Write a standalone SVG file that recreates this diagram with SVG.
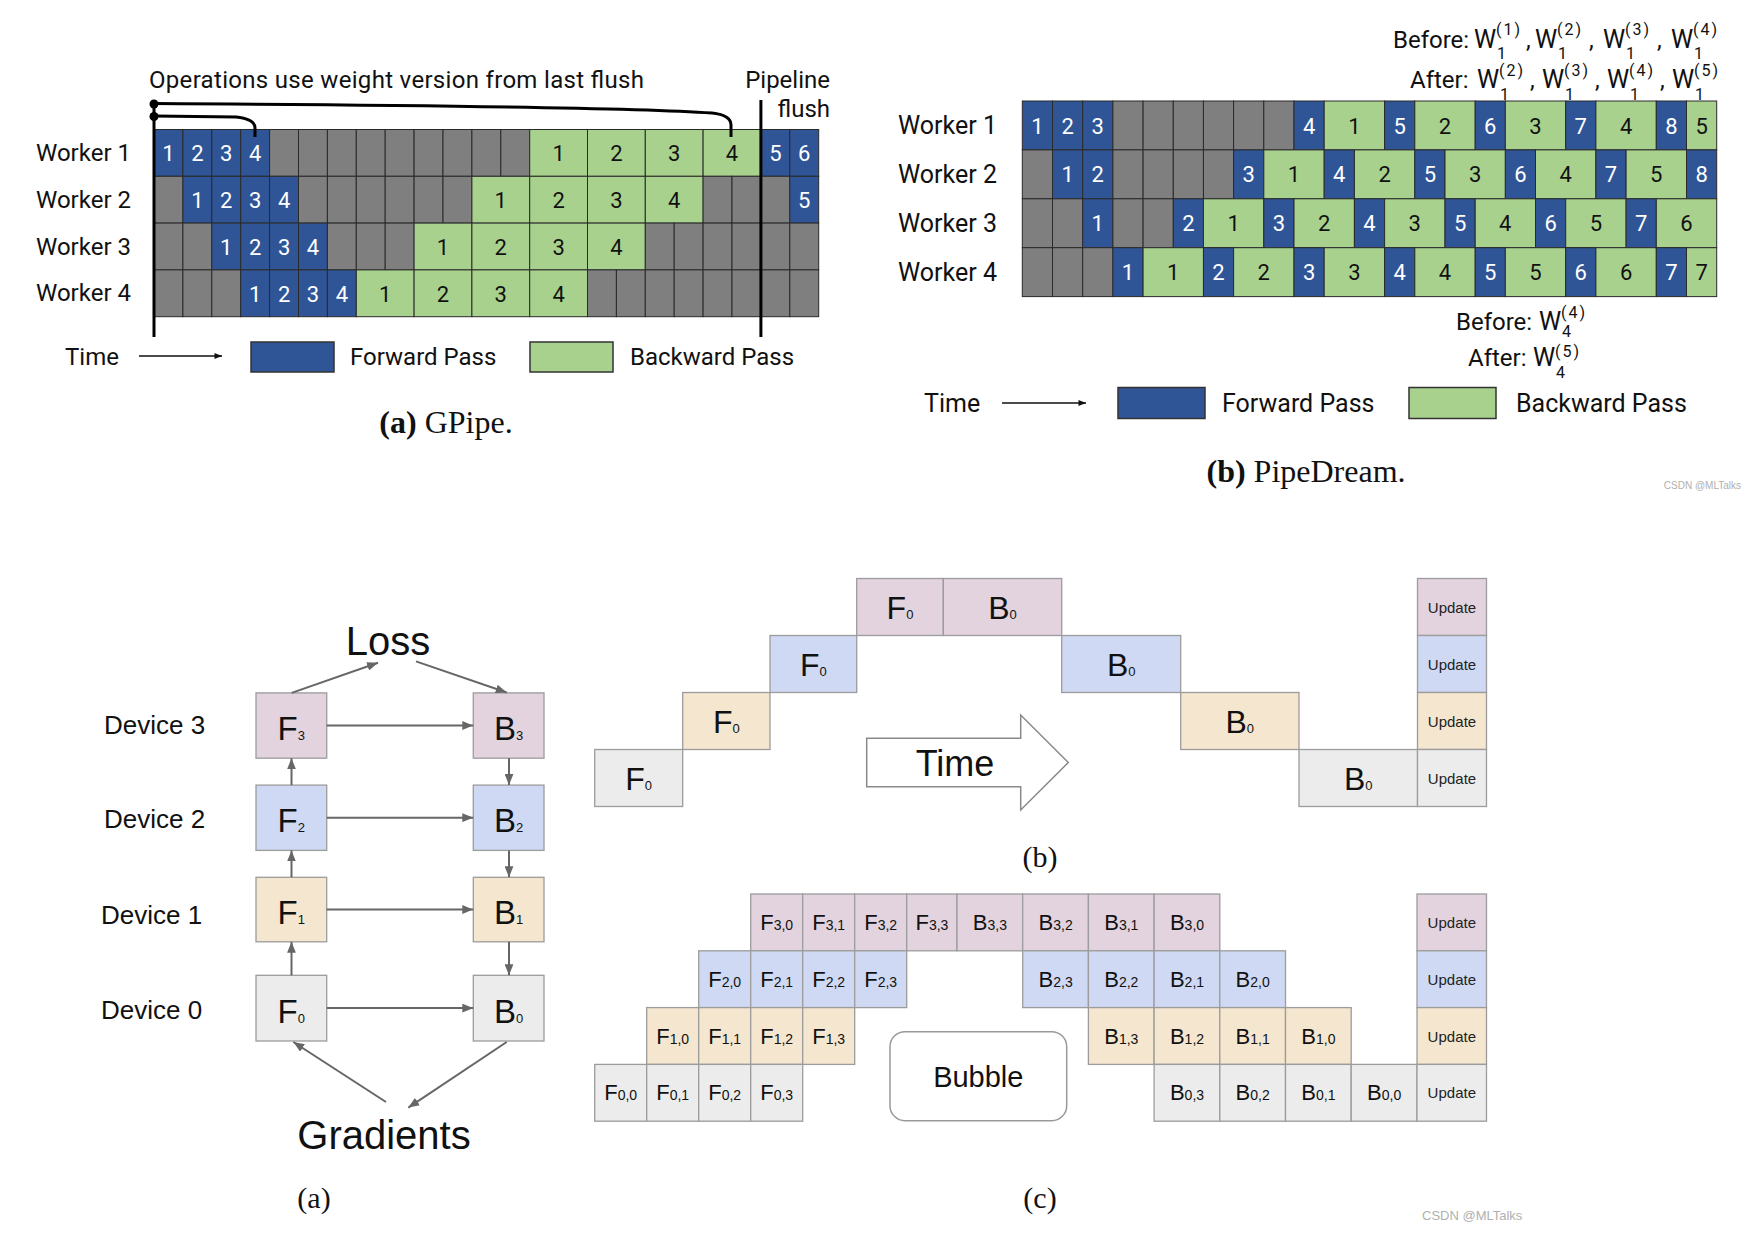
<svg xmlns="http://www.w3.org/2000/svg" width="1748" height="1233" viewBox="0 0 1748 1233">
<style>
.bg{fill:#fff}
.cf{fill:#2f5597;stroke:#2a2a2a;stroke-width:1}
.cg{fill:#7f7f7f;stroke:#2a2a2a;stroke-width:1}
.cb{fill:#a9d18e;stroke:#2a2a2a;stroke-width:1}
.t{font-family:Roboto,"Liberation Sans",sans-serif;fill:#111}
.nw{font-family:Roboto,"Liberation Sans",sans-serif;font-size:22px;fill:#fff;text-anchor:middle}
.nk{font-family:Roboto,"Liberation Sans",sans-serif;font-size:22px;fill:#111;text-anchor:middle}
.lbl{font-family:Roboto,"Liberation Sans",sans-serif;font-size:24px;fill:#111}
.cap{font-family:"Liberation Serif",serif;font-size:32px;fill:#111;text-anchor:middle}
.cap2{font-family:"Liberation Serif",serif;font-size:30px;fill:#111;text-anchor:middle}
.blk{stroke:#000;stroke-width:3;fill:none}
.pu{fill:#e2d3de;stroke:#9c9c9c;stroke-width:1.3}
.bu{fill:#cfd9f3;stroke:#9c9c9c;stroke-width:1.3}
.be{fill:#f4e6cf;stroke:#9c9c9c;stroke-width:1.3}
.gy{fill:#ececec;stroke:#9c9c9c;stroke-width:1.3}
.a{font-family:"Liberation Sans",Arial,sans-serif;fill:#111}
.big{font-family:"Liberation Sans",Arial,sans-serif;font-size:33px;fill:#111;text-anchor:middle}
.mid{font-family:"Liberation Sans",Arial,sans-serif;font-size:32px;fill:#111;text-anchor:middle}
.sm{font-family:"Liberation Sans",Arial,sans-serif;font-size:22px;fill:#111;text-anchor:middle}
.upd{font-family:"Liberation Sans",Arial,sans-serif;font-size:15px;fill:#222;text-anchor:middle}
.con{stroke:#666;stroke-width:2;fill:none}
.wm{font-family:"Liberation Sans",Arial,sans-serif;fill:#b0b0b0}
.w{font-size:25px}
.sp{font-size:16px;letter-spacing:2px}
.sb{font-size:16px}
</style>
<defs>
<marker id="ah" viewBox="0 0 10 8" refX="10" refY="4" markerWidth="11" markerHeight="9" markerUnits="userSpaceOnUse" orient="auto"><path d="M0,0 L10,4 L0,8 z" fill="#666"/></marker>
<marker id="ak" viewBox="0 0 10 8" refX="10" refY="4" markerWidth="8" markerHeight="6" markerUnits="userSpaceOnUse" orient="auto"><path d="M0,0 L10,4 L0,8 z" fill="#111"/></marker>
</defs>
<rect class="bg" x="0" y="0" width="1748" height="1233"/>

<!-- ===================== GPipe ===================== -->
<g id="gpipe">
<text class="t" x="149" y="88" font-size="24" textLength="495">Operations use weight version from last flush</text>
<text class="t" x="830" y="88" font-size="24" text-anchor="end">Pipeline</text>
<text class="t" x="830" y="117" font-size="24" text-anchor="end">flush</text>
<g id="gp-labels">
<text class="lbl" x="36" y="161">Worker 1</text>
<text class="lbl" x="36" y="208">Worker 2</text>
<text class="lbl" x="36" y="255">Worker 3</text>
<text class="lbl" x="36" y="301">Worker 4</text>
</g>
<g id="gp-row1">
<rect class="cf" x="154" y="129.5" width="28.9" height="46.8"/>
<rect class="cf" x="182.9" y="129.5" width="28.9" height="46.8"/>
<rect class="cf" x="211.8" y="129.5" width="28.9" height="46.8"/>
<rect class="cf" x="240.7" y="129.5" width="28.9" height="46.8"/>
<rect class="cg" x="269.6" y="129.5" width="28.9" height="46.8"/>
<rect class="cg" x="298.5" y="129.5" width="28.9" height="46.8"/>
<rect class="cg" x="327.4" y="129.5" width="28.9" height="46.8"/>
<rect class="cg" x="356.3" y="129.5" width="28.9" height="46.8"/>
<rect class="cg" x="385.2" y="129.5" width="28.9" height="46.8"/>
<rect class="cg" x="414.1" y="129.5" width="28.9" height="46.8"/>
<rect class="cg" x="443" y="129.5" width="28.9" height="46.8"/>
<rect class="cg" x="471.9" y="129.5" width="28.9" height="46.8"/>
<rect class="cg" x="500.8" y="129.5" width="28.9" height="46.8"/>
<rect class="cb" x="529.7" y="129.5" width="57.8" height="46.8"/>
<rect class="cb" x="587.5" y="129.5" width="57.8" height="46.8"/>
<rect class="cb" x="645.3" y="129.5" width="57.8" height="46.8"/>
<rect class="cb" x="703.1" y="129.5" width="57.8" height="46.8"/>
<rect class="cf" x="760.9" y="129.5" width="28.9" height="46.8"/>
<rect class="cf" x="789.8" y="129.5" width="28.9" height="46.8"/>
<text class="nw" x="168.5" y="161">1</text><text class="nw" x="197.4" y="161">2</text><text class="nw" x="226.3" y="161">3</text><text class="nw" x="255.2" y="161">4</text>
<text class="nk" x="558.6" y="161">1</text><text class="nk" x="616.4" y="161">2</text><text class="nk" x="674.2" y="161">3</text><text class="nk" x="732" y="161">4</text>
<text class="nw" x="775.4" y="161">5</text><text class="nw" x="804.3" y="161">6</text>
</g>
<g id="gp-row2">
<rect class="cg" x="154" y="176.3" width="28.9" height="46.8"/>
<rect class="cf" x="182.9" y="176.3" width="28.9" height="46.8"/>
<rect class="cf" x="211.8" y="176.3" width="28.9" height="46.8"/>
<rect class="cf" x="240.7" y="176.3" width="28.9" height="46.8"/>
<rect class="cf" x="269.6" y="176.3" width="28.9" height="46.8"/>
<rect class="cg" x="298.5" y="176.3" width="28.9" height="46.8"/>
<rect class="cg" x="327.4" y="176.3" width="28.9" height="46.8"/>
<rect class="cg" x="356.3" y="176.3" width="28.9" height="46.8"/>
<rect class="cg" x="385.2" y="176.3" width="28.9" height="46.8"/>
<rect class="cg" x="414.1" y="176.3" width="28.9" height="46.8"/>
<rect class="cg" x="443" y="176.3" width="28.9" height="46.8"/>
<rect class="cb" x="471.9" y="176.3" width="57.8" height="46.8"/>
<rect class="cb" x="529.7" y="176.3" width="57.8" height="46.8"/>
<rect class="cb" x="587.5" y="176.3" width="57.8" height="46.8"/>
<rect class="cb" x="645.3" y="176.3" width="57.8" height="46.8"/>
<rect class="cg" x="703.1" y="176.3" width="28.9" height="46.8"/>
<rect class="cg" x="732" y="176.3" width="28.9" height="46.8"/>
<rect class="cg" x="760.9" y="176.3" width="28.9" height="46.8"/>
<rect class="cf" x="789.8" y="176.3" width="28.9" height="46.8"/>
<text class="nw" x="197.4" y="208">1</text><text class="nw" x="226.3" y="208">2</text><text class="nw" x="255.2" y="208">3</text><text class="nw" x="284.1" y="208">4</text>
<text class="nk" x="500.8" y="208">1</text><text class="nk" x="558.6" y="208">2</text><text class="nk" x="616.4" y="208">3</text><text class="nk" x="674.2" y="208">4</text>
<text class="nw" x="804.3" y="208">5</text>
</g>
<g id="gp-row3">
<rect class="cg" x="154" y="223.1" width="28.9" height="46.8"/>
<rect class="cg" x="182.9" y="223.1" width="28.9" height="46.8"/>
<rect class="cf" x="211.8" y="223.1" width="28.9" height="46.8"/>
<rect class="cf" x="240.7" y="223.1" width="28.9" height="46.8"/>
<rect class="cf" x="269.6" y="223.1" width="28.9" height="46.8"/>
<rect class="cf" x="298.5" y="223.1" width="28.9" height="46.8"/>
<rect class="cg" x="327.4" y="223.1" width="28.9" height="46.8"/>
<rect class="cg" x="356.3" y="223.1" width="28.9" height="46.8"/>
<rect class="cg" x="385.2" y="223.1" width="28.9" height="46.8"/>
<rect class="cb" x="414.1" y="223.1" width="57.8" height="46.8"/>
<rect class="cb" x="471.9" y="223.1" width="57.8" height="46.8"/>
<rect class="cb" x="529.7" y="223.1" width="57.8" height="46.8"/>
<rect class="cb" x="587.5" y="223.1" width="57.8" height="46.8"/>
<rect class="cg" x="645.3" y="223.1" width="28.9" height="46.8"/>
<rect class="cg" x="674.2" y="223.1" width="28.9" height="46.8"/>
<rect class="cg" x="703.1" y="223.1" width="28.9" height="46.8"/>
<rect class="cg" x="732" y="223.1" width="28.9" height="46.8"/>
<rect class="cg" x="760.9" y="223.1" width="28.9" height="46.8"/>
<rect class="cg" x="789.8" y="223.1" width="28.9" height="46.8"/>
<text class="nw" x="226.3" y="255">1</text><text class="nw" x="255.2" y="255">2</text><text class="nw" x="284.1" y="255">3</text><text class="nw" x="313" y="255">4</text>
<text class="nk" x="443" y="255">1</text><text class="nk" x="500.8" y="255">2</text><text class="nk" x="558.6" y="255">3</text><text class="nk" x="616.4" y="255">4</text>
</g>
<g id="gp-row4">
<rect class="cg" x="154" y="269.9" width="28.9" height="46.8"/>
<rect class="cg" x="182.9" y="269.9" width="28.9" height="46.8"/>
<rect class="cg" x="211.8" y="269.9" width="28.9" height="46.8"/>
<rect class="cf" x="240.7" y="269.9" width="28.9" height="46.8"/>
<rect class="cf" x="269.6" y="269.9" width="28.9" height="46.8"/>
<rect class="cf" x="298.5" y="269.9" width="28.9" height="46.8"/>
<rect class="cf" x="327.4" y="269.9" width="28.9" height="46.8"/>
<rect class="cb" x="356.3" y="269.9" width="57.8" height="46.8"/>
<rect class="cb" x="414.1" y="269.9" width="57.8" height="46.8"/>
<rect class="cb" x="471.9" y="269.9" width="57.8" height="46.8"/>
<rect class="cb" x="529.7" y="269.9" width="57.8" height="46.8"/>
<rect class="cg" x="587.5" y="269.9" width="28.9" height="46.8"/>
<rect class="cg" x="616.4" y="269.9" width="28.9" height="46.8"/>
<rect class="cg" x="645.3" y="269.9" width="28.9" height="46.8"/>
<rect class="cg" x="674.2" y="269.9" width="28.9" height="46.8"/>
<rect class="cg" x="703.1" y="269.9" width="28.9" height="46.8"/>
<rect class="cg" x="732" y="269.9" width="28.9" height="46.8"/>
<rect class="cg" x="760.9" y="269.9" width="28.9" height="46.8"/>
<rect class="cg" x="789.8" y="269.9" width="28.9" height="46.8"/>
<text class="nw" x="255.2" y="301.5">1</text><text class="nw" x="284.1" y="301.5">2</text><text class="nw" x="313" y="301.5">3</text><text class="nw" x="341.9" y="301.5">4</text>
<text class="nk" x="385.2" y="301.5">1</text><text class="nk" x="443" y="301.5">2</text><text class="nk" x="500.8" y="301.5">3</text><text class="nk" x="558.6" y="301.5">4</text>
</g>
<g id="gp-marks">
<line class="blk" x1="154" y1="104" x2="154" y2="337"/>
<line class="blk" x1="760.9" y1="100" x2="760.9" y2="337"/>
<path class="blk" d="M154,103.5 C420,105 640,108 712,113 Q731,115 731,125 L731,137"/>
<path class="blk" d="M154,116 L236,117 Q255,119 255,128 L255,137"/>
<circle cx="154" cy="104" r="4.5" fill="#000"/>
<circle cx="154" cy="116.5" r="4.5" fill="#000"/>
</g>
<g id="gp-legend">
<text class="lbl" x="65" y="365">Time</text>
<line x1="139" y1="356" x2="222" y2="356" stroke="#111" stroke-width="1.6" marker-end="url(#ak)"/>
<rect x="251" y="342" width="83" height="30" fill="#2f5597" stroke="#333" stroke-width="1.5"/>
<text class="lbl" x="350" y="365">Forward Pass</text>
<rect x="530" y="342" width="83" height="30" fill="#a9d18e" stroke="#333" stroke-width="1.5"/>
<text class="lbl" x="630" y="365">Backward Pass</text>
</g>
<text class="cap" x="446" y="433"><tspan font-weight="bold">(a)</tspan> GPipe.</text>
</g>

<!-- ===================== PipeDream ===================== -->
<g id="pipedream">
<g id="pd-weights-top" class="t" font-size="24">
<text x="1393" y="48">Before:</text>
<text class="w" x="1474" y="48">W</text><text class="sp" x="1496" y="35">(1)</text><text class="sb" x="1497" y="59">1</text><text x="1526" y="48">,</text>
<text class="w" x="1535" y="48">W</text><text class="sp" x="1557" y="35">(2)</text><text class="sb" x="1558" y="59">1</text><text x="1589" y="48">,</text>
<text class="w" x="1603" y="48">W</text><text class="sp" x="1625" y="35">(3)</text><text class="sb" x="1626" y="59">1</text><text x="1657" y="48">,</text>
<text class="w" x="1671" y="48">W</text><text class="sp" x="1693" y="35">(4)</text><text class="sb" x="1694" y="59">1</text>
<text x="1410" y="88">After:</text>
<text class="w" x="1477" y="88">W</text><text class="sp" x="1499" y="76">(2)</text><text class="sb" x="1500" y="100">1</text><text x="1530" y="88">,</text>
<text class="w" x="1542" y="88">W</text><text class="sp" x="1564" y="76">(3)</text><text class="sb" x="1565" y="100">1</text><text x="1595" y="88">,</text>
<text class="w" x="1607" y="88">W</text><text class="sp" x="1629" y="76">(4)</text><text class="sb" x="1630" y="100">1</text><text x="1660" y="88">,</text>
<text class="w" x="1672" y="88">W</text><text class="sp" x="1694" y="76">(5)</text><text class="sb" x="1695" y="100">1</text>
</g>
<g id="pd-labels" class="t" font-size="25">
<text x="898" y="134">Worker 1</text>
<text x="898" y="183">Worker 2</text>
<text x="898" y="232">Worker 3</text>
<text x="898" y="281">Worker 4</text>
</g>
<g id="pd-row1">
<rect class="cf" x="1022.3" y="101" width="30.2" height="48.9"/>
<rect class="cf" x="1052.5" y="101" width="30.2" height="48.9"/>
<rect class="cf" x="1082.7" y="101" width="30.2" height="48.9"/>
<rect class="cg" x="1112.9" y="101" width="30.2" height="48.9"/>
<rect class="cg" x="1143.1" y="101" width="30.2" height="48.9"/>
<rect class="cg" x="1173.3" y="101" width="30.2" height="48.9"/>
<rect class="cg" x="1203.4" y="101" width="30.2" height="48.9"/>
<rect class="cg" x="1233.6" y="101" width="30.2" height="48.9"/>
<rect class="cg" x="1263.8" y="101" width="30.2" height="48.9"/>
<rect class="cf" x="1294.0" y="101" width="30.2" height="48.9"/>
<rect class="cb" x="1324.2" y="101" width="60.4" height="48.9"/>
<rect class="cf" x="1384.6" y="101" width="30.2" height="48.9"/>
<rect class="cb" x="1414.8" y="101" width="60.4" height="48.9"/>
<rect class="cf" x="1475.2" y="101" width="30.2" height="48.9"/>
<rect class="cb" x="1505.3" y="101" width="60.4" height="48.9"/>
<rect class="cf" x="1565.7" y="101" width="30.2" height="48.9"/>
<rect class="cb" x="1595.9" y="101" width="60.4" height="48.9"/>
<rect class="cf" x="1656.3" y="101" width="30.2" height="48.9"/>
<rect class="cb" x="1686.5" y="101" width="30.2" height="48.9"/>
<text class="nw" x="1037.4" y="133.5">1</text><text class="nw" x="1067.6" y="133.5">2</text><text class="nw" x="1097.8" y="133.5">3</text>
<text class="nw" x="1309.1" y="133.5">4</text><text class="nk" x="1354.4" y="133.5">1</text>
<text class="nw" x="1399.7" y="133.5">5</text><text class="nk" x="1445" y="133.5">2</text>
<text class="nw" x="1490.3" y="133.5">6</text><text class="nk" x="1535.5" y="133.5">3</text>
<text class="nw" x="1580.8" y="133.5">7</text><text class="nk" x="1626.1" y="133.5">4</text>
<text class="nw" x="1671.4" y="133.5">8</text><text class="nk" x="1701.6" y="133.5">5</text>
</g>
<g id="pd-row2">
<rect class="cg" x="1022.3" y="149.9" width="30.2" height="48.9"/>
<rect class="cf" x="1052.5" y="149.9" width="30.2" height="48.9"/>
<rect class="cf" x="1082.7" y="149.9" width="30.2" height="48.9"/>
<rect class="cg" x="1112.9" y="149.9" width="30.2" height="48.9"/>
<rect class="cg" x="1143.1" y="149.9" width="30.2" height="48.9"/>
<rect class="cg" x="1173.3" y="149.9" width="30.2" height="48.9"/>
<rect class="cg" x="1203.4" y="149.9" width="30.2" height="48.9"/>
<rect class="cf" x="1233.6" y="149.9" width="30.2" height="48.9"/>
<rect class="cb" x="1263.8" y="149.9" width="60.4" height="48.9"/>
<rect class="cf" x="1324.2" y="149.9" width="30.2" height="48.9"/>
<rect class="cb" x="1354.4" y="149.9" width="60.4" height="48.9"/>
<rect class="cf" x="1414.8" y="149.9" width="30.2" height="48.9"/>
<rect class="cb" x="1445.0" y="149.9" width="60.4" height="48.9"/>
<rect class="cf" x="1505.3" y="149.9" width="30.2" height="48.9"/>
<rect class="cb" x="1535.5" y="149.9" width="60.4" height="48.9"/>
<rect class="cf" x="1595.9" y="149.9" width="30.2" height="48.9"/>
<rect class="cb" x="1626.1" y="149.9" width="60.4" height="48.9"/>
<rect class="cf" x="1686.5" y="149.9" width="30.2" height="48.9"/>
<text class="nw" x="1067.6" y="182.4">1</text><text class="nw" x="1097.8" y="182.4">2</text>
<text class="nw" x="1248.7" y="182.4">3</text><text class="nk" x="1294" y="182.4">1</text>
<text class="nw" x="1339.3" y="182.4">4</text><text class="nk" x="1384.6" y="182.4">2</text>
<text class="nw" x="1429.9" y="182.4">5</text><text class="nk" x="1475.2" y="182.4">3</text>
<text class="nw" x="1520.4" y="182.4">6</text><text class="nk" x="1565.7" y="182.4">4</text>
<text class="nw" x="1611" y="182.4">7</text><text class="nk" x="1656.3" y="182.4">5</text>
<text class="nw" x="1701.6" y="182.4">8</text>
</g>
<g id="pd-row3">
<rect class="cg" x="1022.3" y="198.8" width="30.2" height="48.9"/>
<rect class="cg" x="1052.5" y="198.8" width="30.2" height="48.9"/>
<rect class="cf" x="1082.7" y="198.8" width="30.2" height="48.9"/>
<rect class="cg" x="1112.9" y="198.8" width="30.2" height="48.9"/>
<rect class="cg" x="1143.1" y="198.8" width="30.2" height="48.9"/>
<rect class="cf" x="1173.3" y="198.8" width="30.2" height="48.9"/>
<rect class="cb" x="1203.4" y="198.8" width="60.4" height="48.9"/>
<rect class="cf" x="1263.8" y="198.8" width="30.2" height="48.9"/>
<rect class="cb" x="1294.0" y="198.8" width="60.4" height="48.9"/>
<rect class="cf" x="1354.4" y="198.8" width="30.2" height="48.9"/>
<rect class="cb" x="1384.6" y="198.8" width="60.4" height="48.9"/>
<rect class="cf" x="1445.0" y="198.8" width="30.2" height="48.9"/>
<rect class="cb" x="1475.2" y="198.8" width="60.4" height="48.9"/>
<rect class="cf" x="1535.5" y="198.8" width="30.2" height="48.9"/>
<rect class="cb" x="1565.7" y="198.8" width="60.4" height="48.9"/>
<rect class="cf" x="1626.1" y="198.8" width="30.2" height="48.9"/>
<rect class="cb" x="1656.3" y="198.8" width="60.4" height="48.9"/>
<text class="nw" x="1097.8" y="231.3">1</text>
<text class="nw" x="1188.4" y="231.3">2</text><text class="nk" x="1233.6" y="231.3">1</text>
<text class="nw" x="1278.9" y="231.3">3</text><text class="nk" x="1324.2" y="231.3">2</text>
<text class="nw" x="1369.5" y="231.3">4</text><text class="nk" x="1414.8" y="231.3">3</text>
<text class="nw" x="1460.1" y="231.3">5</text><text class="nk" x="1505.3" y="231.3">4</text>
<text class="nw" x="1550.6" y="231.3">6</text><text class="nk" x="1595.9" y="231.3">5</text>
<text class="nw" x="1641.2" y="231.3">7</text><text class="nk" x="1686.5" y="231.3">6</text>
</g>
<g id="pd-row4">
<rect class="cg" x="1022.3" y="247.7" width="30.2" height="48.9"/>
<rect class="cg" x="1052.5" y="247.7" width="30.2" height="48.9"/>
<rect class="cg" x="1082.7" y="247.7" width="30.2" height="48.9"/>
<rect class="cf" x="1112.9" y="247.7" width="30.2" height="48.9"/>
<rect class="cb" x="1143.1" y="247.7" width="60.4" height="48.9"/>
<rect class="cf" x="1203.4" y="247.7" width="30.2" height="48.9"/>
<rect class="cb" x="1233.6" y="247.7" width="60.4" height="48.9"/>
<rect class="cf" x="1294.0" y="247.7" width="30.2" height="48.9"/>
<rect class="cb" x="1324.2" y="247.7" width="60.4" height="48.9"/>
<rect class="cf" x="1384.6" y="247.7" width="30.2" height="48.9"/>
<rect class="cb" x="1414.8" y="247.7" width="60.4" height="48.9"/>
<rect class="cf" x="1475.2" y="247.7" width="30.2" height="48.9"/>
<rect class="cb" x="1505.3" y="247.7" width="60.4" height="48.9"/>
<rect class="cf" x="1565.7" y="247.7" width="30.2" height="48.9"/>
<rect class="cb" x="1595.9" y="247.7" width="60.4" height="48.9"/>
<rect class="cf" x="1656.3" y="247.7" width="30.2" height="48.9"/>
<rect class="cb" x="1686.5" y="247.7" width="30.2" height="48.9"/>
<text class="nw" x="1128" y="280.2">1</text><text class="nk" x="1173.3" y="280.2">1</text>
<text class="nw" x="1218.5" y="280.2">2</text><text class="nk" x="1263.8" y="280.2">2</text>
<text class="nw" x="1309.1" y="280.2">3</text><text class="nk" x="1354.4" y="280.2">3</text>
<text class="nw" x="1399.7" y="280.2">4</text><text class="nk" x="1445" y="280.2">4</text>
<text class="nw" x="1490.3" y="280.2">5</text><text class="nk" x="1535.5" y="280.2">5</text>
<text class="nw" x="1580.8" y="280.2">6</text><text class="nk" x="1626.1" y="280.2">6</text>
<text class="nw" x="1671.4" y="280.2">7</text><text class="nk" x="1701.6" y="280.2">7</text>
</g>
<g id="pd-weights-bottom" class="t" font-size="24">
<text x="1456" y="330">Before:</text>
<text class="w" x="1539" y="330">W</text><text class="sp" x="1561" y="318">(4)</text><text class="sb" x="1562" y="337">4</text>
<text x="1468" y="366">After:</text>
<text class="w" x="1533" y="366">W</text><text class="sp" x="1555" y="357">(5)</text><text class="sb" x="1556" y="378">4</text>
</g>
<g id="pd-legend" class="t" font-size="25">
<text x="924" y="412">Time</text>
<line x1="1002" y1="403" x2="1086" y2="403" stroke="#111" stroke-width="1.6" marker-end="url(#ak)"/>
<rect x="1118" y="387.5" width="87" height="31" fill="#2f5597" stroke="#333" stroke-width="1.5"/>
<text x="1222" y="412">Forward Pass</text>
<rect x="1409" y="387.5" width="87" height="31" fill="#a9d18e" stroke="#333" stroke-width="1.5"/>
<text x="1516" y="412">Backward Pass</text>
</g>
<text class="cap" x="1306" y="482"><tspan font-weight="bold">(b)</tspan> PipeDream.</text>
<text class="wm" x="1741" y="489" font-size="10" text-anchor="end">CSDN @MLTalks</text>
</g>

<!-- ===================== (a) bottom-left ===================== -->
<g id="diagram-a">
<g id="dev-labels" class="a" font-size="26">
<text x="104" y="734">Device 3</text>
<text x="104" y="828">Device 2</text>
<text x="101" y="923.5">Device 1</text>
<text x="101" y="1019">Device 0</text>
</g>
<g id="loss"><text class="a" x="388" y="655" font-size="40" text-anchor="middle">Loss</text></g>
<g id="gradients"><text class="a" x="384" y="1149" font-size="40" text-anchor="middle">Gradients</text></g>
<g id="F3"><rect class="pu" x="256" y="692.9" width="70.7" height="65.3"/><text class="big" x="291.3" y="740">F<tspan font-size="13">3</tspan></text></g>
<g id="F2"><rect class="bu" x="256" y="785.1" width="70.7" height="65.3"/><text class="big" x="291.3" y="832.2">F<tspan font-size="13">2</tspan></text></g>
<g id="F1"><rect class="be" x="256" y="877.3" width="70.7" height="64.5"/><text class="big" x="291.3" y="924">F<tspan font-size="13">1</tspan></text></g>
<g id="F0"><rect class="gy" x="256" y="975.3" width="70.7" height="65.7"/><text class="big" x="291.3" y="1022.5">F<tspan font-size="13">0</tspan></text></g>
<g id="B3"><rect class="pu" x="473.3" y="692.9" width="70.7" height="65.3"/><text class="big" x="508.6" y="740">B<tspan font-size="13">3</tspan></text></g>
<g id="B2"><rect class="bu" x="473.3" y="785.1" width="70.7" height="65.3"/><text class="big" x="508.6" y="832.2">B<tspan font-size="13">2</tspan></text></g>
<g id="B1"><rect class="be" x="473.3" y="877.3" width="70.7" height="64.5"/><text class="big" x="508.6" y="924">B<tspan font-size="13">1</tspan></text></g>
<g id="B0"><rect class="gy" x="473.3" y="975.3" width="70.7" height="65.7"/><text class="big" x="508.6" y="1022.5">B<tspan font-size="13">0</tspan></text></g>
<text class="cap2" x="314" y="1208">(a)</text>
</g>

<g id="connectors">
<line class="con" x1="291.7" y1="692.9" x2="378" y2="662.7" marker-end="url(#ah)"/>
<line class="con" x1="416" y1="661.4" x2="506.7" y2="692.5" marker-end="url(#ah)"/>
<line class="con" x1="326.7" y1="725.5" x2="473.3" y2="725.5" marker-end="url(#ah)"/>
<line class="con" x1="326.7" y1="817.7" x2="473.3" y2="817.7" marker-end="url(#ah)"/>
<line class="con" x1="326.7" y1="909.5" x2="473.3" y2="909.5" marker-end="url(#ah)"/>
<line class="con" x1="326.7" y1="1008.1" x2="473.3" y2="1008.1" marker-end="url(#ah)"/>
<line class="con" x1="291.5" y1="975.3" x2="291.5" y2="941.8" marker-end="url(#ah)"/>
<line class="con" x1="291.5" y1="877.3" x2="291.5" y2="850.4" marker-end="url(#ah)"/>
<line class="con" x1="291.5" y1="785.1" x2="291.5" y2="758.2" marker-end="url(#ah)"/>
<line class="con" x1="509" y1="758.2" x2="509" y2="785.1" marker-end="url(#ah)"/>
<line class="con" x1="509" y1="850.4" x2="509" y2="877.3" marker-end="url(#ah)"/>
<line class="con" x1="509" y1="941.8" x2="509" y2="975.3" marker-end="url(#ah)"/>
<line class="con" x1="386" y1="1102" x2="293.3" y2="1042" marker-end="url(#ah)"/>
<line class="con" x1="506.7" y1="1042" x2="408.3" y2="1107.6" marker-end="url(#ah)"/>
</g>

<!-- ===================== (b) bottom-right top ===================== -->
<g id="diagram-b">
<g id="b-row3"><rect class="pu" x="856.7" y="578.5" width="86.6" height="57"/><text class="mid" x="900" y="618.5">F<tspan font-size="13">0</tspan></text>
<rect class="pu" x="943.3" y="578.5" width="118.4" height="57"/><text class="mid" x="1002.5" y="618.5">B<tspan font-size="13">0</tspan></text>
<rect class="pu" x="1417.5" y="578.5" width="69" height="57"/><text class="upd" x="1452" y="612.5">Update</text></g>
<g id="b-row2"><rect class="bu" x="770" y="635.5" width="86.7" height="57"/><text class="mid" x="813.3" y="675.5">F<tspan font-size="13">0</tspan></text>
<rect class="bu" x="1061.7" y="635.5" width="119" height="57"/><text class="mid" x="1121.2" y="675.5">B<tspan font-size="13">0</tspan></text>
<rect class="bu" x="1417.5" y="635.5" width="69" height="57"/><text class="upd" x="1452" y="669.5">Update</text></g>
<g id="b-row1"><rect class="be" x="682.7" y="692.5" width="87.3" height="57"/><text class="mid" x="726.3" y="732.5">F<tspan font-size="13">0</tspan></text>
<rect class="be" x="1180.7" y="692.5" width="118.3" height="57"/><text class="mid" x="1239.8" y="732.5">B<tspan font-size="13">0</tspan></text>
<rect class="be" x="1417.5" y="692.5" width="69" height="57"/><text class="upd" x="1452" y="726.5">Update</text></g>
<g id="b-row0"><rect class="gy" x="594.7" y="749.5" width="88" height="57"/><text class="mid" x="638.7" y="789.5">F<tspan font-size="13">0</tspan></text>
<rect class="gy" x="1299" y="749.5" width="118.5" height="57"/><text class="mid" x="1358.2" y="789.5">B<tspan font-size="13">0</tspan></text>
<rect class="gy" x="1417.5" y="749.5" width="69" height="57"/><text class="upd" x="1452" y="783.5">Update</text></g>
<g id="time-arrow"><path d="M866.7,738.3 L1020.7,738.3 L1020.7,715 L1068.3,762.5 L1020.7,810 L1020.7,786.7 L866.7,786.7 Z" fill="#fff" stroke="#8a8a8a" stroke-width="1.5"/>
<text class="a" x="955" y="776" font-size="36" text-anchor="middle">Time</text></g>
<text class="cap2" x="1040" y="867">(b)</text>
</g>

<!-- ===================== (c) bottom-right bottom ===================== -->
<g id="diagram-c">
<g id="c-row3">
<rect class="pu" x="750.7" y="894" width="52" height="56.8"/><text class="sm" x="776.7" y="930">F<tspan font-size="14">3,0</tspan></text>
<rect class="pu" x="802.7" y="894" width="52" height="56.8"/><text class="sm" x="828.7" y="930">F<tspan font-size="14">3,1</tspan></text>
<rect class="pu" x="854.7" y="894" width="52" height="56.8"/><text class="sm" x="880.7" y="930">F<tspan font-size="14">3,2</tspan></text>
<rect class="pu" x="906.7" y="894" width="50.3" height="56.8"/><text class="sm" x="931.9" y="930">F<tspan font-size="14">3,3</tspan></text>
<rect class="pu" x="957" y="894" width="65.7" height="56.8"/><text class="sm" x="989.9" y="930">B<tspan font-size="14">3,3</tspan></text>
<rect class="pu" x="1022.7" y="894" width="65.7" height="56.8"/><text class="sm" x="1055.6" y="930">B<tspan font-size="14">3,2</tspan></text>
<rect class="pu" x="1088.4" y="894" width="65.7" height="56.8"/><text class="sm" x="1121.3" y="930">B<tspan font-size="14">3,1</tspan></text>
<rect class="pu" x="1154.1" y="894" width="65.7" height="56.8"/><text class="sm" x="1187" y="930">B<tspan font-size="14">3,0</tspan></text>
<rect class="pu" x="1417" y="894" width="69.5" height="56.8"/><text class="upd" x="1451.8" y="928">Update</text>
</g>
<g id="c-row2">
<rect class="bu" x="698.7" y="950.8" width="52" height="56.8"/><text class="sm" x="724.7" y="986.8">F<tspan font-size="14">2,0</tspan></text>
<rect class="bu" x="750.7" y="950.8" width="52" height="56.8"/><text class="sm" x="776.7" y="986.8">F<tspan font-size="14">2,1</tspan></text>
<rect class="bu" x="802.7" y="950.8" width="52" height="56.8"/><text class="sm" x="828.7" y="986.8">F<tspan font-size="14">2,2</tspan></text>
<rect class="bu" x="854.7" y="950.8" width="52" height="56.8"/><text class="sm" x="880.7" y="986.8">F<tspan font-size="14">2,3</tspan></text>
<rect class="bu" x="1022.7" y="950.8" width="65.7" height="56.8"/><text class="sm" x="1055.6" y="986.8">B<tspan font-size="14">2,3</tspan></text>
<rect class="bu" x="1088.4" y="950.8" width="65.7" height="56.8"/><text class="sm" x="1121.3" y="986.8">B<tspan font-size="14">2,2</tspan></text>
<rect class="bu" x="1154.1" y="950.8" width="65.7" height="56.8"/><text class="sm" x="1187" y="986.8">B<tspan font-size="14">2,1</tspan></text>
<rect class="bu" x="1219.8" y="950.8" width="65.7" height="56.8"/><text class="sm" x="1252.7" y="986.8">B<tspan font-size="14">2,0</tspan></text>
<rect class="bu" x="1417" y="950.8" width="69.5" height="56.8"/><text class="upd" x="1451.8" y="984.8">Update</text>
</g>
<g id="c-row1">
<rect class="be" x="646.7" y="1007.6" width="52" height="56.8"/><text class="sm" x="672.7" y="1043.6">F<tspan font-size="14">1,0</tspan></text>
<rect class="be" x="698.7" y="1007.6" width="52" height="56.8"/><text class="sm" x="724.7" y="1043.6">F<tspan font-size="14">1,1</tspan></text>
<rect class="be" x="750.7" y="1007.6" width="52" height="56.8"/><text class="sm" x="776.7" y="1043.6">F<tspan font-size="14">1,2</tspan></text>
<rect class="be" x="802.7" y="1007.6" width="52" height="56.8"/><text class="sm" x="828.7" y="1043.6">F<tspan font-size="14">1,3</tspan></text>
<rect class="be" x="1088.4" y="1007.6" width="65.7" height="56.8"/><text class="sm" x="1121.3" y="1043.6">B<tspan font-size="14">1,3</tspan></text>
<rect class="be" x="1154.1" y="1007.6" width="65.7" height="56.8"/><text class="sm" x="1187" y="1043.6">B<tspan font-size="14">1,2</tspan></text>
<rect class="be" x="1219.8" y="1007.6" width="65.7" height="56.8"/><text class="sm" x="1252.7" y="1043.6">B<tspan font-size="14">1,1</tspan></text>
<rect class="be" x="1285.5" y="1007.6" width="65.7" height="56.8"/><text class="sm" x="1318.4" y="1043.6">B<tspan font-size="14">1,0</tspan></text>
<rect class="be" x="1417" y="1007.6" width="69.5" height="56.8"/><text class="upd" x="1451.8" y="1041.6">Update</text>
</g>
<g id="c-row0">
<rect class="gy" x="594.7" y="1064.4" width="52" height="56.8"/><text class="sm" x="620.7" y="1100.4">F<tspan font-size="14">0,0</tspan></text>
<rect class="gy" x="646.7" y="1064.4" width="52" height="56.8"/><text class="sm" x="672.7" y="1100.4">F<tspan font-size="14">0,1</tspan></text>
<rect class="gy" x="698.7" y="1064.4" width="52" height="56.8"/><text class="sm" x="724.7" y="1100.4">F<tspan font-size="14">0,2</tspan></text>
<rect class="gy" x="750.7" y="1064.4" width="52" height="56.8"/><text class="sm" x="776.7" y="1100.4">F<tspan font-size="14">0,3</tspan></text>
<rect class="gy" x="1154.1" y="1064.4" width="65.7" height="56.8"/><text class="sm" x="1187" y="1100.4">B<tspan font-size="14">0,3</tspan></text>
<rect class="gy" x="1219.8" y="1064.4" width="65.7" height="56.8"/><text class="sm" x="1252.7" y="1100.4">B<tspan font-size="14">0,2</tspan></text>
<rect class="gy" x="1285.5" y="1064.4" width="65.7" height="56.8"/><text class="sm" x="1318.4" y="1100.4">B<tspan font-size="14">0,1</tspan></text>
<rect class="gy" x="1351.2" y="1064.4" width="65.8" height="56.8"/><text class="sm" x="1384.1" y="1100.4">B<tspan font-size="14">0,0</tspan></text>
<rect class="gy" x="1417" y="1064.4" width="69.5" height="56.8"/><text class="upd" x="1451.8" y="1098.4">Update</text>
</g>
<g id="bubble"><rect x="890" y="1031.7" width="176.7" height="89" rx="15" fill="#fff" stroke="#999" stroke-width="1.5"/>
<text class="a" x="978.3" y="1087" font-size="29" text-anchor="middle">Bubble</text></g>
<text class="cap2" x="1040" y="1208">(c)</text>
<text class="wm" x="1422" y="1220" font-size="13">CSDN @MLTalks</text>
</g>
</svg>
